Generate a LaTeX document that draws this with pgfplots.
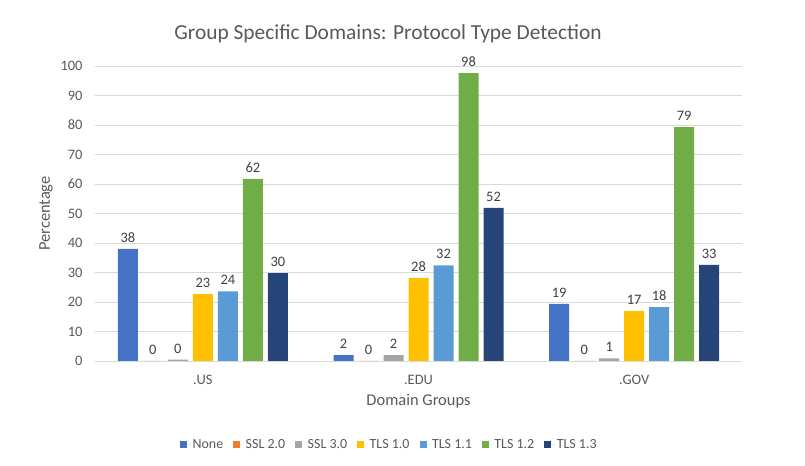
\documentclass[border=0pt]{standalone}
\usepackage{fontspec}
\setmainfont{Carlito}
\usepackage{pgfplots}
\pgfplotsset{compat=1.18}
\definecolor{cNone}{HTML}{4472C4}
\definecolor{cSSLtwo}{HTML}{ED7D31}
\definecolor{cSSLthree}{HTML}{A5A5A5}
\definecolor{cTLSzero}{HTML}{FFC000}
\definecolor{cTLSone}{HTML}{5B9BD5}
\definecolor{cTLStwo}{HTML}{70AD47}
\definecolor{cTLSthree}{HTML}{264478}
\definecolor{gridc}{HTML}{D9D9D9}
\definecolor{txt}{HTML}{595959}
\definecolor{lbl}{HTML}{404040}
\begin{document}
\begin{tikzpicture}[x=1bp,y=1bp]
\path[use as bounding box] (0,0) rectangle (805,466);
\node[font=\fontsize{21.5}{24}\selectfont, text=txt] at (388,432) {Group Specific Domains: Protocol Type Detection};
\begin{axis}[
  at={(95bp,105bp)}, anchor=south west,
  scale only axis, width=647bp, height=295bp,
  ymin=0, ymax=100, ytick={0,10,...,100},
  xmin=-0.5, xmax=2.5, xtick={0,1,2}, xticklabels={.US,.EDU,.GOV},
  ybar=5bp, bar width=20bp,
  axis x line*=bottom, axis y line*=left,
  y axis line style={draw=none},
  x axis line style={draw=gridc, line width=0.8pt, -},
  ymajorgrids, grid style={draw=gridc, line width=0.8pt},
  major tick length=0pt,
  tick label style={font=\fontsize{14.5}{16}\selectfont, text=txt},
  yticklabel style={anchor=east, xshift=-9bp},
  xticklabel style={anchor=center, yshift=-19bp},
  /pgf/number format/assume math mode=true,
  xlabel={Domain Groups}, ylabel={Percentage},
  label style={font=\fontsize{16.5}{18}\selectfont, text=txt},
  xlabel style={at={(axis description cs:0.5,0)}, anchor=center, yshift=-40bp},
  ylabel style={at={(axis description cs:0,0.5)}, anchor=center, rotate=0, yshift=49bp},
  clip=false,
  nodes near coords,
  nodes near coords style={font=\fontsize{14.5}{16}\selectfont, text=lbl, /pgf/number format/fixed, /pgf/number format/precision=0, /pgf/number format/assume math mode=true, yshift=3bp},
  legend columns=7,
  legend style={at={(axis description cs:0.455,-0.2835)}, anchor=center, draw=none, fill=none,
    font=\fontsize{14}{16}\selectfont, text=txt, inner sep=0pt,
    /tikz/every even column/.append style={column sep=8bp},
    /tikz/every odd column/.append style={column sep=0bp}},
  legend image code/.code={\fill[#1] (0bp,-3.5bp) rectangle (7bp,3.5bp); \path (0bp,0bp) -- (10.5bp,0bp);},
]
\addplot[fill=cNone, draw=none] coordinates {(0,38) (1,2.0) (2,19.4)};
\addplot[fill=cSSLtwo, draw=none] coordinates {(0,0) (1,0) (2,0)};
\addplot[fill=cSSLthree, draw=none] coordinates {(0,0.45) (1,2.0) (2,0.9)};
\addplot[fill=cTLSzero, draw=none] coordinates {(0,22.7) (1,28.1) (2,16.9)};
\addplot[fill=cTLSone, draw=none] coordinates {(0,23.6) (1,32.4) (2,18.3)};
\addplot[fill=cTLStwo, draw=none] coordinates {(0,61.7) (1,97.6) (2,79.3)};
\addplot[fill=cTLSthree, draw=none] coordinates {(0,29.8) (1,51.9) (2,32.6)};
\legend{None,SSL 2.0,SSL 3.0,TLS 1.0,TLS 1.1,TLS 1.2,TLS 1.3}
\end{axis}
\end{tikzpicture}
\end{document}
